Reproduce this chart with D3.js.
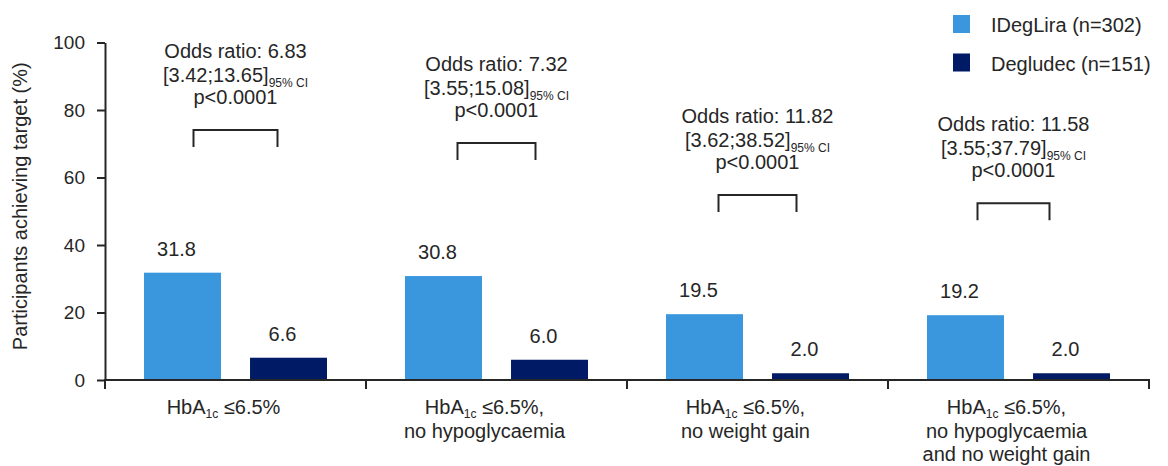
<!DOCTYPE html>
<html>
<head>
<meta charset="utf-8">
<script src="https://cdn.jsdelivr.net/npm/d3@7"></script>
<style>
  html, body { margin: 0; padding: 0; background: #fff; }
  svg text { font-family: "Liberation Sans", Arial, sans-serif; fill: #262626; }
</style>
</head>
<body>
<svg id="chart" width="1168" height="466"></svg>
<script>
// Target achievement by endpoint, IDegLira vs degludec
const categories = [
  ["HbA|1c| ≤6.5%"],
  ["HbA|1c| ≤6.5%,", "no hypoglycaemia"],
  ["HbA|1c| ≤6.5%,", "no weight gain"],
  ["HbA|1c| ≤6.5%,", "no hypoglycaemia", "and no weight gain"]
];
const seriesNames = ["IDegLira (n=302)", "Degludec (n=151)"];
const idegLira = [31.8, 30.8, 19.5, 19.2];
const degludec = [6.6, 6.0, 2.0, 2.0];
const oddsRatio = ["6.83", "7.32", "11.82", "11.58"];
const ciLower = ["3.42", "3.55", "3.62", "3.55"];
const ciUpper = ["13.65", "15.08", "38.52", "37.79"];
const pValues = ["p<0.0001", "p<0.0001", "p<0.0001", "p<0.0001"];
// level (in % of the y axis) at which each comparison bracket sits
const bracketLevel = [74.1, 70.2, 54.8, 52.4];
const yTicks = [0, 20, 40, 60, 80, 100];

const colors = ["#3a97dd", "#001a66"];
const ink = "#262626";

const svg = d3.select("#chart");

const x = d3.scaleBand().domain(d3.range(categories.length)).range([105, 1149]);
const xs = d3.scaleBand().domain([0, 1]).range([0, x.bandwidth()])
  .paddingInner(0.274).paddingOuter(0.368);
const y = d3.scaleLinear().domain([0, 100]).range([380, 42.5]);

// y axis
const yAxis = svg.append("g")
  .attr("transform", `translate(${x.range()[0]},0)`)
  .call(d3.axisLeft(y).tickValues(yTicks).tickSize(8).tickSizeOuter(0).tickPadding(12));
yAxis.select(".domain").attr("stroke", ink).attr("stroke-width", 2);
yAxis.selectAll(".tick line").attr("stroke", ink).attr("stroke-width", 2);
yAxis.selectAll(".tick text").attr("font-size", 19).attr("fill", ink)
  .style("font-family", '"Liberation Sans", Arial, sans-serif');

svg.append("text")
  .attr("transform", `translate(27,${(y(0) + y(100)) / 2 - 5}) rotate(-90)`)
  .attr("text-anchor", "middle")
  .attr("font-size", 20)
  .text("Participants achieving target (%)");

// bars
const rows = categories.map((c, i) => ({ i, vals: [idegLira[i], degludec[i]] }));
const groups = svg.append("g").selectAll("g").data(rows).join("g")
  .attr("transform", d => `translate(${x(d.i)},0)`);

groups.selectAll("rect").data(d => d.vals.map((v, s) => ({ v, s }))).join("rect")
  .attr("x", d => xs(d.s))
  .attr("width", xs.bandwidth())
  .attr("y", d => y(d.v))
  .attr("height", d => y(0) - y(d.v))
  .attr("fill", d => colors[d.s]);

groups.selectAll("text.val").data(d => d.vals.map((v, s) => ({ v, s }))).join("text")
  .attr("class", "val")
  .attr("x", d => xs(d.s) + xs.bandwidth() / 2 - 6)
  .attr("y", d => y(d.v) - 17)
  .attr("text-anchor", "middle")
  .attr("font-size", 20)
  .text(d => d.v.toFixed(1));

// x axis with ticks at category boundaries
const xEnd = x(categories.length - 1) + x.bandwidth();
svg.append("line")
  .attr("x1", x.range()[0]).attr("x2", xEnd)
  .attr("y1", y(0)).attr("y2", y(0))
  .attr("stroke", ink).attr("stroke-width", 2);
const bounds = d3.range(categories.length + 1).map(i => i < categories.length ? x(i) : xEnd);
svg.append("g").selectAll("line").data(bounds).join("line")
  .attr("x1", d => d).attr("x2", d => d)
  .attr("y1", y(0) - 1).attr("y2", y(0) + 9)
  .attr("stroke", ink).attr("stroke-width", 2);

// category labels (segments between | are subscripts)
const catG = svg.append("g");
categories.forEach((lines, i) => {
  const cx = x(i) + x.bandwidth() / 2 - 12;
  lines.forEach((line, k) => {
    const t = catG.append("text")
      .attr("x", cx).attr("y", 414 + k * 23.5)
      .attr("text-anchor", "middle")
      .attr("font-size", 20);
    line.split("|").forEach((part, p) => {
      const isSub = p % 2 === 1;
      const ts = t.append("tspan").text(part);
      if (isSub) ts.attr("font-size", 12).attr("dy", 4);
      else if (p > 0) ts.attr("dy", -4);
    });
  });
});

// comparison brackets and odds ratio annotations
const ann = svg.append("g");
rows.forEach(d => {
  const cx = x(d.i) + x.bandwidth() / 2 - (d.i === 3 ? 5 : 0);
  const top = y(bracketLevel[d.i]);
  const half = d.i === 0 ? 42 : (d.i === 3 ? 36 : 39);
  ann.append("path")
    .attr("d", `M${cx - half},${top + 17}V${top}H${cx + half}V${top + 17}`)
    .attr("fill", "none").attr("stroke", ink).attr("stroke-width", 2);

  ann.append("text").attr("x", cx).attr("y", top - 72)
    .attr("text-anchor", "middle").attr("font-size", 20)
    .text(`Odds ratio: ${oddsRatio[d.i]}`);
  const ci = ann.append("text").attr("x", cx).attr("y", top - 48)
    .attr("text-anchor", "middle").attr("font-size", 20);
  ci.append("tspan").text(`[${ciLower[d.i]};${ciUpper[d.i]}]`);
  ci.append("tspan").attr("font-size", 12).attr("dy", 5).text("95% CI");
  ann.append("text").attr("x", cx).attr("y", top - 26)
    .attr("text-anchor", "middle").attr("font-size", 20)
    .text(pValues[d.i]);
});

// legend
const leg = svg.append("g").selectAll("g").data(seriesNames).join("g")
  .attr("transform", (d, i) => `translate(953,${15 + i * 38.5})`);
leg.append("rect").attr("width", 17).attr("height", 18).attr("fill", (d, i) => colors[i]);
leg.append("text").attr("x", 38).attr("y", 17).attr("font-size", 20).text(d => d);
</script>
</body>
</html>
